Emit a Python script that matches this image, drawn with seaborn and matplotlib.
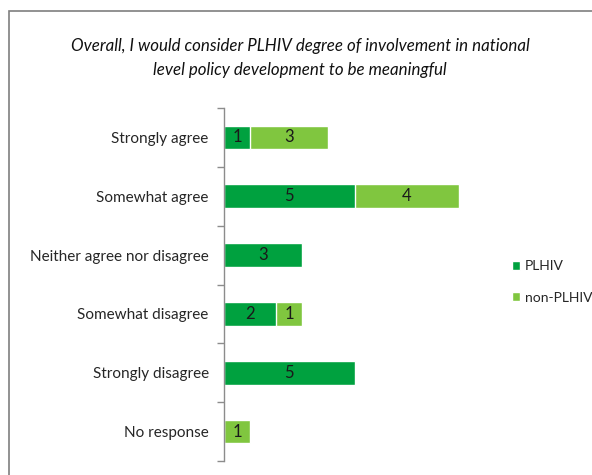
import matplotlib
matplotlib.use("Agg")
import matplotlib.pyplot as plt
from matplotlib.patches import Rectangle, Patch
import seaborn as sns
import pandas as pd

categories = ["Strongly agree", "Somewhat agree", "Neither agree nor disagree",
              "Somewhat disagree", "Strongly disagree", "No response"]
plhiv = [1, 5, 3, 2, 5, 0]
non_plhiv = [3, 4, 0, 1, 0, 1]
series_names = ["PLHIV", "non-PLHIV"]
title = ("Overall, I would consider PLHIV degree of involvement in national\n"
         "level policy development to be meaningful")

dark_green = "#00A13F"
light_green = "#80C63F"

sns.set_theme(style="white")
plt.rcParams["font.family"] = ["Lato", "DejaVu Sans"]

df = pd.DataFrame({"category": categories, "plhiv": plhiv, "non": non_plhiv})
df["total"] = df["plhiv"] + df["non"]

fig = plt.figure(figsize=(5.92, 4.75), dpi=100)
ax = fig.add_axes([224 / 592, 1 - 461 / 475, 261 / 592, (461 - 108) / 475])

# stacked look: full total in light green, PLHIV part drawn over it
sns.barplot(data=df, x="total", y="category", color=light_green, width=0.4,
            saturation=1, ax=ax, order=categories)
sns.barplot(data=df, x="plhiv", y="category", color=dark_green, width=0.4,
            saturation=1, ax=ax, order=categories)

for i, (p, n) in enumerate(zip(plhiv, non_plhiv)):
    if p > 0:
        ax.text(p / 2, i, str(p), ha="center", va="center", fontsize=12, color="#1a1a1a")
    if n > 0:
        ax.text(p + n / 2, i, str(n), ha="center", va="center", fontsize=12, color="#1a1a1a")

ax.set_xlim(0, 10)
ax.set_ylim(len(categories) - 0.5, -0.5)
ax.set_xlabel("")
ax.set_ylabel("")
ax.set_xticks([])
for s in ["top", "right", "bottom"]:
    ax.spines[s].set_visible(False)
ax.spines["left"].set_color("#8c8c8c")
ax.spines["left"].set_linewidth(1)

ax.set_yticks([i - 0.5 for i in range(len(categories) + 1)])
ax.set_yticklabels([])
ax.set_yticks(range(len(categories)), minor=True)
ax.set_yticklabels(categories, minor=True, fontsize=11, color="#262626")
ax.tick_params(axis="y", which="major", length=5, width=1, color="#8c8c8c", left=True)
ax.tick_params(axis="y", which="minor", length=0, pad=11)

fig.text(300 / 592, 1 - 58 / 475, title, ha="center", va="center", fontsize=12.2,
         style="italic", color="#111111", linespacing=1.6)

handles = [Patch(facecolor=dark_green), Patch(facecolor=light_green)]
fig.legend(handles, series_names, loc="center left",
           bbox_to_anchor=(502 / 592, 1 - 282 / 475), frameon=False, fontsize=10,
           handlelength=0.6, handleheight=0.6, handletextpad=0.35, labelspacing=1.4,
           borderpad=0.2)

fig.patches.append(Rectangle((9 / 592, -0.1), 1.2, 1 - 11 / 475 + 0.1,
                             transform=fig.transFigure, fill=False,
                             edgecolor="#7f7f7f", linewidth=1.2))

fig.savefig("out.png", dpi=100)
